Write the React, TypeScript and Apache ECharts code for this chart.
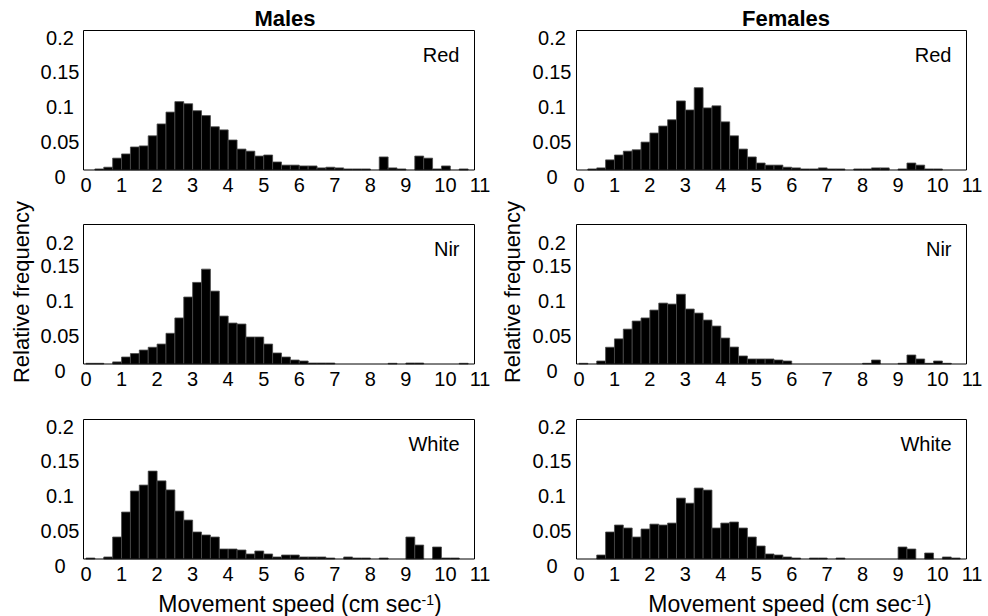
import React, { useEffect, useRef } from "react";
import * as echarts from "echarts";

const BIN_WIDTH = 0.25;
const xTickValues = [0, 1, 2, 3, 4, 5, 6, 7, 8, 9, 10, 11];
const yTickValues = [0, 0.05, 0.1, 0.15, 0.2];
const columnTitles = ["Males", "Females"];
const rowLabels = ["Red", "Nir", "White"];

// relative frequency per 0.25 cm/s bin, bins 0–0.25 … 10.75–11
const malesRed = [0, 0.0015, 0.004, 0.017, 0.023, 0.033, 0.0345, 0.049, 0.066, 0.083, 0.098, 0.095, 0.085, 0.078, 0.062, 0.0575, 0.043, 0.03, 0.027, 0.02, 0.0215, 0.0115, 0.007, 0.007, 0.0058, 0.0058, 0.003, 0.004, 0.003, 0.0015, 0.0015, 0.0015, 0, 0.0187, 0.003, 0.0015, 0, 0.02, 0.017, 0.0015, 0.0058, 0, 0.0015, 0];
const femalesRed = [0, 0.0015, 0.003, 0.0145, 0.0215, 0.027, 0.029, 0.04, 0.053, 0.063, 0.072, 0.099, 0.086, 0.118, 0.089, 0.092, 0.069, 0.049, 0.03, 0.0187, 0.01, 0.007, 0.007, 0.004, 0.003, 0.0015, 0.0015, 0.003, 0.0015, 0.0015, 0, 0.0015, 0.0015, 0.003, 0.003, 0, 0.0015, 0.01, 0.007, 0.0015, 0.0015, 0, 0, 0];
const malesNir = [0.001, 0.001, 0, 0.003, 0.01, 0.015, 0.02, 0.024, 0.0286, 0.044, 0.066, 0.096, 0.117, 0.136, 0.1045, 0.0687, 0.0587, 0.0573, 0.0387, 0.0387, 0.0286, 0.0158, 0.01, 0.0057, 0.0043, 0.0014, 0.0014, 0.0014, 0, 0, 0, 0, 0, 0, 0.001, 0, 0.0014, 0.0014, 0, 0, 0, 0, 0.001, 0];
const femalesNir = [0.001, 0, 0.0043, 0.024, 0.036, 0.05, 0.0616, 0.066, 0.0773, 0.0873, 0.0859, 0.1, 0.0788, 0.073, 0.063, 0.0544, 0.0372, 0.0243, 0.0115, 0.0072, 0.0072, 0.0072, 0.0057, 0.0043, 0, 0, 0, 0, 0, 0, 0, 0, 0.001, 0.0057, 0, 0, 0.001, 0.0129, 0.0072, 0.001, 0.0043, 0.001, 0, 0];
const malesWhite = [0.0014, 0, 0.0029, 0.0315, 0.0673, 0.0974, 0.106, 0.126, 0.112, 0.099, 0.0687, 0.0558, 0.0387, 0.0344, 0.0315, 0.0143, 0.0143, 0.0129, 0.0072, 0.0115, 0.0072, 0.0029, 0.0057, 0.0057, 0.0029, 0.0029, 0.0029, 0.0014, 0, 0.0029, 0.0014, 0.0014, 0, 0.0014, 0, 0, 0.0315, 0.02, 0, 0.0172, 0.0014, 0.0014, 0, 0];
const femalesWhite = [0, 0, 0.0057, 0.0387, 0.0487, 0.0444, 0.0315, 0.043, 0.05, 0.0487, 0.0515, 0.0873, 0.08, 0.1017, 0.0988, 0.0444, 0.0515, 0.053, 0.0444, 0.0315, 0.0186, 0.0072, 0.0057, 0.0029, 0.0014, 0, 0.0014, 0.0014, 0, 0.0014, 0, 0, 0, 0, 0, 0, 0.0172, 0.0143, 0, 0.0086, 0, 0.0029, 0.0014, 0];

const panels = [
  [malesRed, femalesRed],
  [malesNir, femalesNir],
  [malesWhite, femalesWhite],
];

const FONT = "'Liberation Sans', Arial, Helvetica, sans-serif";

export default function App() {
  const ref = useRef<HTMLDivElement>(null);

  useEffect(() => {
    if (!ref.current) return;
    const chart = echarts.init(ref.current, undefined, { renderer: "svg" });

    // frame (box) geometry and plotting-area geometry
    const boxLeft = [83.5, 576.5];
    const boxRight = [474.5, 966.5];
    const plotLeft = [86, 579];
    const plotWidth = [391, 390];
    const rowTop = [30.5, 224.5, 419.5];
    const rowHeight = 139.5;

    const grids: any[] = [];
    const xAxes: any[] = [];
    const yAxes: any[] = [];
    const series: any[] = [];
    const graphics: any[] = [];

    const txt = { fontSize: 20, fontFamily: FONT, color: "#000" };

    let idx = 0;
    for (let r = 0; r < 3; r++) {
      for (let c = 0; c < 2; c++) {
        grids.push({
          left: plotLeft[c],
          top: rowTop[r],
          width: plotWidth[c],
          height: rowHeight,
          show: false,
        });
        xAxes.push({
          type: "value",
          gridIndex: idx,
          min: xTickValues[0],
          max: xTickValues[xTickValues.length - 1],
          interval: 1,
          axisLine: { show: false },
          axisTick: { show: false },
          splitLine: { show: false },
          axisLabel: {
            ...txt,
            margin: 5,
            showMinLabel: true,
            showMaxLabel: true,
            formatter: (v: number) =>
              v === 10 ? `{t|${v}}` : v === 11 ? `{e|${v}}` : `{a|${v}}`,
            rich: {
              a: { ...txt },
              t: { ...txt, padding: [0, 0, 0, 8] },
              e: { ...txt, padding: [0, 0, 0, 6] },
            },
          },
        });
        const rr = r;
        yAxes.push({
          type: "value",
          gridIndex: idx,
          min: yTickValues[0],
          max: yTickValues[yTickValues.length - 1],
          interval: 0.05,
          axisLine: { show: false },
          axisTick: { show: false },
          splitLine: { show: false },
          axisLabel: {
            ...txt,
            align: "center",
            margin: c === 0 ? 26 : 27,
            formatter: (v: number) => {
              const s = String(Number(v.toFixed(2)));
              return rr === 1 && Math.abs(v - 0.2) < 1e-9 ? `{b|${s}}` : `{a|${s}}`;
            },
            rich: {
              a: { ...txt, padding: [14, 0, 0, 0] },
              b: { ...txt, padding: [37, 0, 0, 0] },
            },
          },
        });
        const values = panels[r][c];
        const data = values
          .map((v, k) => [k * BIN_WIDTH, (k + 1) * BIN_WIDTH, v])
          .filter((d) => d[2] > 0);
        series.push({
          type: "custom",
          xAxisIndex: idx,
          yAxisIndex: idx,
          data,
          encode: { x: [0, 1], y: 2 },
          renderItem: (params: any, api: any) => {
            const p0 = api.coord([api.value(0), api.value(2)]);
            const p1 = api.coord([api.value(1), 0]);
            return {
              type: "rect",
              shape: { x: p0[0], y: p0[1], width: p1[0] - p0[0], height: p1[1] - p0[1] },
              style: { fill: "#000", stroke: "#4a4a4a", lineWidth: 0.8 },
            };
          },
        });
        // panel frame
        graphics.push({
          type: "rect",
          z: 10,
          shape: {
            x: boxLeft[c],
            y: rowTop[r],
            width: boxRight[c] - boxLeft[c],
            height: rowHeight,
          },
          style: { fill: "none", stroke: "#000", lineWidth: 1 },
        });
        graphics.push({
          type: "text",
          x: boxRight[c] - 15,
          y: rowTop[r] + 24,
          style: {
            text: rowLabels[r],
            fill: "#000",
            font: `20px ${FONT}`,
            align: "right",
            verticalAlign: "middle",
          },
        });
        idx++;
      }
    }

    const titleX = [285, 786];
    for (let c = 0; c < 2; c++) {
      graphics.push({
        type: "text",
        x: titleX[c],
        y: 18,
        style: {
          text: columnTitles[c],
          fill: "#000",
          font: `bold 22px ${FONT}`,
          align: "center",
          verticalAlign: "middle",
        },
      });
      graphics.push({
        type: "text",
        x: [21, 512][c],
        y: 292,
        rotation: Math.PI / 2,
        style: {
          text: "Relative frequency",
          fill: "#000",
          font: `22px ${FONT}`,
          align: "center",
          verticalAlign: "middle",
        },
      });
      graphics.push({
        type: "text",
        x: [300, 790][c],
        y: 604,
        style: {
          text: "{n|Movement speed (cm sec}{s|-1}{n|)}",
          fill: "#000",
          align: "center",
          verticalAlign: "middle",
          rich: {
            n: { fontSize: 23, fontFamily: FONT, fill: "#000" },
            s: { fontSize: 14, fontFamily: FONT, fill: "#000", verticalAlign: "top" },
          },
        },
      });
    }

    chart.setOption({
      animation: false,
      backgroundColor: "#fff",
      grid: grids,
      xAxis: xAxes,
      yAxis: yAxes,
      series,
      graphic: graphics,
    });

    return () => chart.dispose();
  }, []);

  return (
    <div
      ref={ref}
      style={{ position: "fixed", left: 0, top: 0, width: 988, height: 616 }}
    />
  );
}
